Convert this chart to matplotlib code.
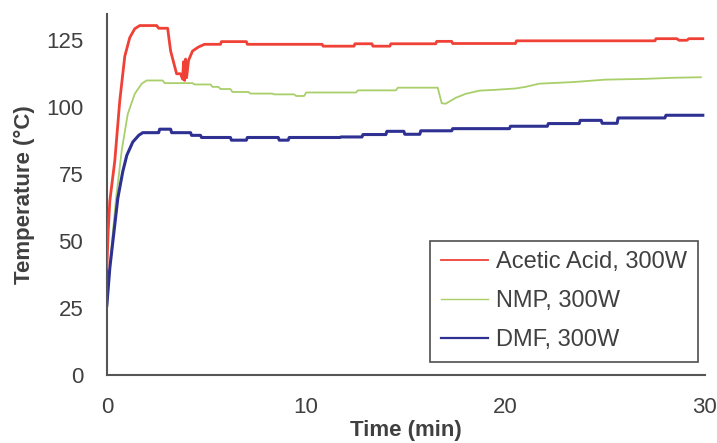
import matplotlib.pyplot as plt

# -------------------------------
# Data (time in min, temperature in degC)
# -------------------------------
acid_time = [0, 0.07, 0.15, 0.4, 0.65, 0.9, 1.15, 1.4, 1.65, 2.5, 2.6, 3.05, 3.2,
             3.5, 3.7, 3.8, 3.85, 3.9, 3.95, 4.0, 4.1, 4.3, 4.6, 4.9, 5.7, 5.75,
             7.0, 7.05, 10.8, 10.85, 12.4, 12.45, 13.3, 13.35, 14.2, 14.25, 16.5,
             16.55, 17.3, 17.35, 20.5, 20.55, 27.5, 27.55, 28.6, 28.7, 29.1, 29.2, 29.9]
acid_temp = [40, 54, 65, 80, 102.5, 119, 126, 129.3, 130.5, 130.5, 129.5, 129.5, 121,
             112.5, 112.5, 110.5, 117, 110, 118, 111, 117.5, 121, 122.5, 123.5, 123.5, 124.5,
             124.5, 123.5, 123.5, 122.8, 122.8, 123.7, 123.7, 122.8, 122.8, 123.7, 123.7,
             124.6, 124.6, 123.8, 123.8, 124.8, 124.8, 125.6, 125.6, 125, 125, 125.6, 125.6]

nmp_time = [0, 0.2, 0.45, 0.75, 1.05, 1.4, 1.75, 2.0, 2.8, 2.9, 4.3, 4.4, 5.2, 5.3,
            5.6, 5.7, 6.2, 6.3, 7.1, 7.2, 8.3, 8.4, 9.4, 9.5, 9.9, 10.0, 12.5, 12.6,
            14.5, 14.6, 16.6, 16.8, 17.0, 17.5, 18.0, 18.7, 19.5, 20.5, 21.0, 21.7,
            23.4, 25.0, 27.0, 28.4, 29.8]
nmp_temp = [25, 45, 65, 84, 97.5, 105, 108.8, 110, 110, 109, 109, 108.5, 108.5, 107.6,
            107.6, 106.8, 106.8, 105.7, 105.7, 105.1, 105.1, 104.8, 104.8, 104.2, 104.2,
            105.5, 105.5, 106.3, 106.3, 107.3, 107.3, 101.5, 101.3, 103.5, 105, 106.2,
            106.5, 107, 107.6, 108.8, 109.4, 110.3, 110.6, 111, 111.2]

dmf_time = [0, 0.15, 0.35, 0.55, 0.8, 1.0, 1.3, 1.6, 1.8, 2.6, 2.65, 3.2, 3.25, 4.2,
            4.25, 4.7, 4.75, 6.2, 6.25, 7.0, 7.05, 8.6, 8.65, 9.1, 9.15, 11.7, 11.75,
            12.8, 12.85, 14.0, 14.05, 14.9, 14.95, 15.7, 15.75, 17.3, 17.35, 20.2,
            20.25, 22.1, 22.15, 23.7, 23.75, 24.8, 24.85, 25.6, 25.65, 28.0, 28.05, 29.9]
dmf_temp = [26, 40, 53, 66, 76, 82, 87, 89.5, 90.5, 90.5, 91.8, 91.8, 90.5, 90.5,
            89.5, 89.5, 88.7, 88.7, 87.7, 87.7, 88.7, 88.7, 87.7, 87.7, 88.7, 88.7, 88.9,
            88.9, 89.8, 89.8, 91, 91, 89.9, 89.9, 91.2, 91.2, 92, 92, 92.9, 92.9, 93.9,
            93.9, 95.1, 95.1, 94, 94, 96, 96, 97, 97]

labels = ["Acetic Acid, 300W", "NMP, 300W", "DMF, 300W"]
x_ticks = [0, 10, 20, 30]
y_ticks = [0, 25, 50, 75, 100, 125]

# -------------------------------
# Plot
# -------------------------------
plt.rcParams['font.family'] = ['Liberation Sans', 'DejaVu Sans']
text_color = '#404040'

fig = plt.figure(figsize=(7.17, 4.43), dpi=100)
ax = fig.add_axes([0.149, 0.1535, 0.834, 0.816])

ax.plot(acid_time, acid_temp, color='#ef4136', lw=2.0, label=labels[0], zorder=3)
ax.plot(nmp_time, nmp_temp, color='#a9cf6a', lw=1.3, label=labels[1], zorder=2)
ax.plot(dmf_time, dmf_temp, color='#2e3192', lw=2.2, label=labels[2], zorder=2)

ax.set_xlim(0, 30)
ax.set_ylim(0, 135)
ax.set_xticks(x_ticks)
ax.set_yticks(y_ticks)
ax.tick_params(length=0, labelsize=16, labelcolor=text_color)
ax.tick_params(axis='x', pad=16)
ax.tick_params(axis='y', pad=17)

for side in ['top', 'right']:
    ax.spines[side].set_visible(False)
for side in ['left', 'bottom']:
    ax.spines[side].set_color('#555555')
    ax.spines[side].set_linewidth(1.5)

ax.set_xlabel("Time (min)", fontsize=16, fontweight='bold', color=text_color, labelpad=1)
ax.set_ylabel("Temperature (°C)", fontsize=16, fontweight='bold', color=text_color, labelpad=8)

leg = ax.legend(loc='lower right', bbox_to_anchor=(0.988, 0.036), fontsize=17,
                frameon=True, fancybox=False, edgecolor='#222222',
                handlelength=2.0, handletextpad=0.35, labelspacing=0.72,
                borderpad=0.45, borderaxespad=0)
leg.get_frame().set_linewidth(1.2)
for line, w in zip(leg.get_lines(), [1.3, 1.0, 1.6]):
    line.set_linewidth(w)
for t in leg.get_texts():
    t.set_color(text_color)

plt.savefig("out.png", dpi=100)
